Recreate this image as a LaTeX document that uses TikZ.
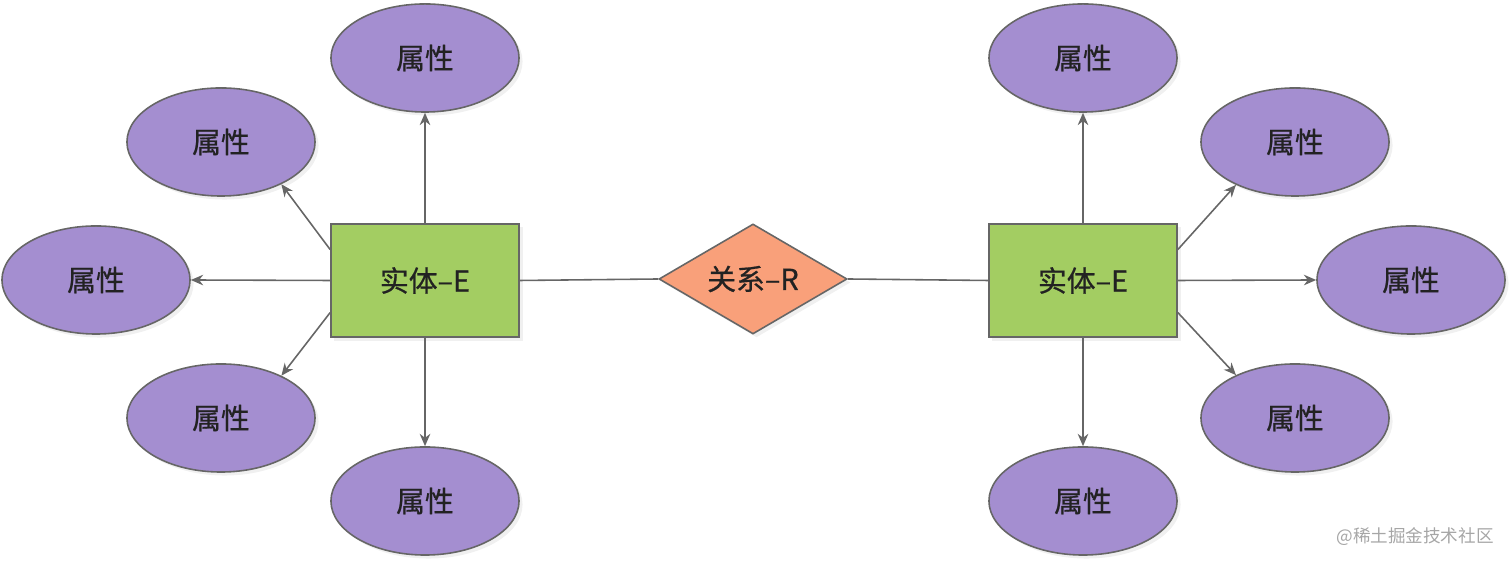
\documentclass[tikz,border=0pt]{standalone}
\usepackage{fontspec}
\setmainfont{Noto Sans CJK SC}
\newfontfamily\medfont[FakeBold=0.7]{Noto Sans CJK SC}
\usetikzlibrary{shapes.geometric,arrows.meta,calc,shadows}
\definecolor{attrfill}{HTML}{A48ED0}
\definecolor{entfill}{HTML}{A3CD62}
\definecolor{relfill}{HTML}{F9A07A}
\definecolor{linegray}{HTML}{666666}
\definecolor{textdark}{HTML}{222222}
\tikzset{
  shapeshadow/.style={drop shadow={opacity=0.12, shadow xshift=1pt, shadow yshift=-1pt}},
  attr/.style={ellipse, draw=linegray, line width=0.45pt, fill=attrfill, shapeshadow, minimum width=1.88cm, minimum height=1.08cm, inner sep=0pt, font=\medfont\fontsize{8.2pt}{9pt}\selectfont, text=textdark},
  ent/.style={rectangle, draw=linegray, line width=0.45pt, fill=entfill, shapeshadow, minimum width=1.88cm, minimum height=1.13cm, inner sep=0pt, font=\medfont\fontsize{8.2pt}{9pt}\selectfont, text=textdark},
  rel/.style={diamond, draw=linegray, line width=0.45pt, fill=relfill, shapeshadow, minimum width=1.88cm, minimum height=1.10cm, inner sep=0pt, aspect=1.7, font=\medfont\fontsize{8.2pt}{9pt}\selectfont, text=textdark},
  arr/.style={draw=linegray, line width=0.45pt, -{Stealth[length=3.5pt,width=3pt]}},
  conn/.style={draw=linegray, line width=0.45pt},
}
\begin{document}
\begin{tikzpicture}[x=0.01cm,y=-0.01cm]
\useasboundingbox (0,0) rectangle (1512,565);
% entities and relation
\node[ent] (E1) at (425,280.5) {实体–E};
\node[ent] (E2) at (1083,280.5) {实体–E};
\node[rel] (R) at (753,279) {关系–R};
% left attributes
\node[attr] (LT) at (425,58) {属性};
\node[attr] (LUL) at (221,142) {属性};
\node[attr] (LL) at (96,280) {属性};
\node[attr] (LLL) at (221,418) {属性};
\node[attr] (LB) at (425,501) {属性};
% right attributes
\node[attr] (RT) at (1083,58) {属性};
\node[attr] (RUR) at (1295,142) {属性};
\node[attr] (RR) at (1411,280) {属性};
\node[attr] (RLR) at (1295,418) {属性};
\node[attr] (RB) at (1083,501) {属性};
% connector start points on entity edges
\coordinate (e1a) at ($(E1.north west)!0.23!(E1.south west)$);
\coordinate (e1b) at ($(E1.north west)!0.78!(E1.south west)$);
\coordinate (e2a) at ($(E2.north east)!0.23!(E2.south east)$);
\coordinate (e2b) at ($(E2.north east)!0.78!(E2.south east)$);
% relation lines
\draw[conn] (E1.east) -- (R.west);
\draw[conn] (R.east) -- (E2.west);
% left arrows
\draw[arr] (E1.north) -- (LT.south);
\draw[arr] (e1a) -- (LUL.-35);
\draw[arr] (E1.west) -- (LL.east);
\draw[arr] (e1b) -- (LLL.35);
\draw[arr] (E1.south) -- (LB.north);
% right arrows
\draw[arr] (E2.north) -- (RT.south);
\draw[arr] (e2a) -- (RUR.-144);
\draw[arr] (E2.east) -- (RR.west);
\draw[arr] (e2b) -- (RLR.144);
\draw[arr] (E2.south) -- (RB.north);
% watermark
\node[text=gray!70, font=\fontsize{5pt}{6pt}\selectfont, inner sep=0pt] (wm) at (1415,537) {@稀土掘金技术社区};
\end{tikzpicture}
\end{document}
